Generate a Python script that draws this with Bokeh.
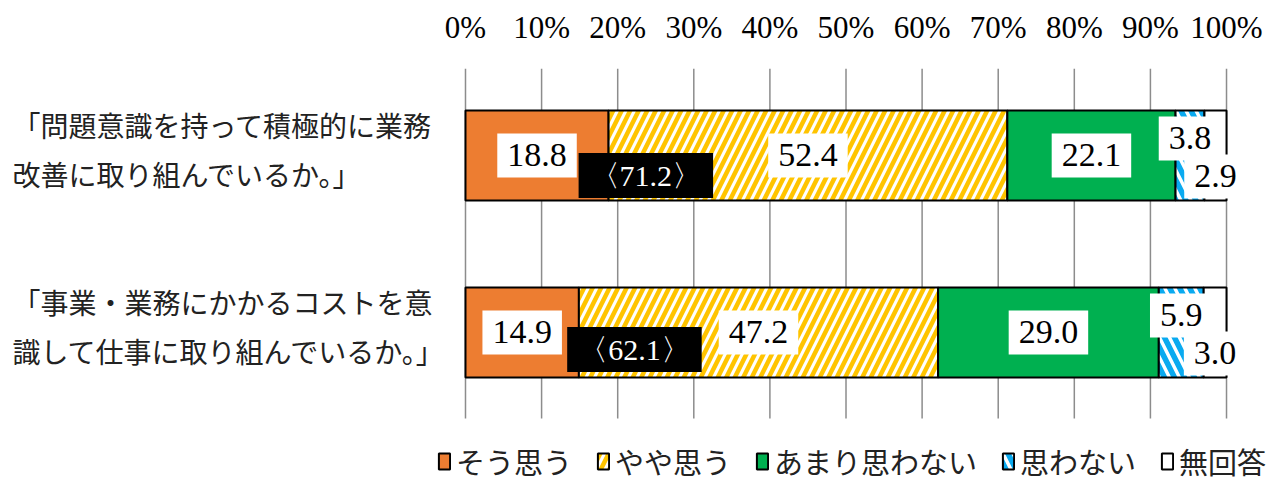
import numpy as np
from bokeh.plotting import figure
from bokeh.models import Range1d, FixedTicker, ColumnDataSource
from bokeh.core.properties import value
from bokeh.embed import file_html
from bokeh.resources import INLINE

# ---------------- data ----------------
cat_line1 = ["「問題意識を持って積極的に業務", "「事業・業務にかかるコストを意"]
cat_line2 = ["改善に取り組んでいるか。」", "識して仕事に取り組んでいるか。」"]
series_names = ["そう思う", "やや思う", "あまり思わない", "思わない", "無回答"]
sou_omou = [18.8, 14.9]
yaya_omou = [52.4, 47.2]
amari_omowanai = [22.1, 29.0]
omowanai = [3.8, 5.9]
mukaitou = [2.9, 3.0]
tick_values = [0, 10, 20, 30, 40, 50, 60, 70, 80, 90, 100]
tick_labels = ["0%", "10%", "20%", "30%", "40%", "50%", "60%", "70%", "80%", "90%", "100%"]

# ---------------- styles / layout ----------------
fills = ["#ED7D31", "white", "#00B050", "white", "white"]
hatches = [None, "/", None, "\\", None]
hatch_colors = ["black", "#FFC400", "black", "#0AAAF0", "black"]
hatch_scales = [12, 17, 12, 20, 12]
hatch_weights = [4, 4.5, 4, 5.5, 4]
label_dy = [0, 0, 0, -17, 21]          # px offsets of value labels
total_label_x = [23.7, 22.2]           # positions of the 〈 〉 boxes
total_label_dy = [20, 17]
GRID_TOP, GRID_BOTTOM = 1.4915, -0.486
BAR_H = 0.508

SERIF = value("Liberation Serif")
JP = value("Noto Sans CJK JP")

series = [sou_omou, yaya_omou, amari_omowanai, omowanai, mukaitou]
vals = np.array(series, dtype=float)
cum = np.cumsum(vals, axis=0)
lefts = cum - vals
ypos = np.arange(len(cat_line1))[::-1].astype(float)   # first category on top

p = figure(width=1278, height=483,
           x_range=Range1d(-61.10, 106.83),
           y_range=Range1d(-0.8531, 1.4915),
           x_axis_location="above", y_axis_location=None,
           output_backend="svg", toolbar_location=None,
           min_border_left=0, min_border_right=0,
           min_border_top=68, min_border_bottom=0)
p.outline_line_color = None
p.background_fill_color = "white"
p.xgrid.visible = False
p.ygrid.visible = False

ax = p.xaxis[0]
ax.ticker = FixedTicker(ticks=tick_values)
ax.major_label_overrides = {v: l for v, l in zip(tick_values, tick_labels)}
ax.axis_line_color = None
ax.major_tick_line_color = None
ax.minor_tick_line_color = None
ax.major_tick_out = 0
ax.major_tick_in = 0
ax.major_label_standoff = 24
ax.major_label_text_font = "Liberation Serif"
ax.major_label_text_font_size = "31px"
ax.major_label_text_color = "black"

# vertical gridlines at the tick positions
p.segment(x0=tick_values, x1=tick_values,
          y0=[GRID_BOTTOM] * len(tick_values), y1=[GRID_TOP] * len(tick_values),
          line_color="#8c8c8c", line_width=1.5)

for i, name in enumerate(series_names):
    src = ColumnDataSource(dict(y=ypos, left=lefts[i], right=cum[i]))
    kw = dict(y="y", left="left", right="right", height=BAR_H, source=src,
              fill_color=fills[i], line_color="black", line_width=2,
              legend_label=name)
    if hatches[i]:
        kw.update(hatch_pattern=hatches[i], hatch_color=hatch_colors[i],
                  hatch_scale=hatch_scales[i], hatch_weight=hatch_weights[i])
    p.hbar(**kw)

# value labels
for i in range(len(series_names)):
    centers = lefts[i] + vals[i] / 2
    src = ColumnDataSource(dict(x=centers, y=ypos,
                                t=[f"{v:.1f}" for v in vals[i]]))
    p.text(x="x", y="y", text="t", source=src, y_offset=label_dy[i],
           text_font=SERIF, text_font_size="34px", text_color="black",
           text_align="center", text_baseline="middle",
           background_fill_color="white", padding=(10, 11))

# positive totals
totals = cum[1]
src = ColumnDataSource(dict(x=total_label_x, y=ypos, dy=total_label_dy,
                            t=[f"〈{v:.1f}〉" for v in totals]))
p.text(x="x", y="y", text="t", source=src, y_offset="dy",
       text_font=SERIF, text_font_size="30px", text_color="white",
       text_align="center", text_baseline="middle",
       background_fill_color="black", padding=(11, 6))

# category labels
lx = -59.53
src1 = ColumnDataSource(dict(x=[lx] * len(ypos), y=ypos, t=cat_line1))
src2 = ColumnDataSource(dict(x=[lx] * len(ypos), y=ypos, t=cat_line2))
p.text(x="x", y="y", text="t", source=src1, y_offset=-30,
       text_font=JP, text_font_size="28px", text_color="#222222",
       text_align="left", text_baseline="middle")
p.text(x="x", y="y", text="t", source=src2, y_offset=19,
       text_font=JP, text_font_size="28px", text_color="#222222",
       text_align="left", text_baseline="middle")

leg = p.legend[0]
leg.orientation = "horizontal"
leg.location = (437, 1)
leg.label_text_font = "Noto Sans CJK JP"
leg.label_text_font_size = "29px"
leg.label_text_color = "#222222"
leg.glyph_width = 14
leg.glyph_height = 20
leg.label_standoff = 5
leg.spacing = 24
leg.padding = 0
leg.margin = 0
leg.border_line_color = None
leg.background_fill_alpha = 0

open("out.html", "w").write(file_html(p, INLINE))
